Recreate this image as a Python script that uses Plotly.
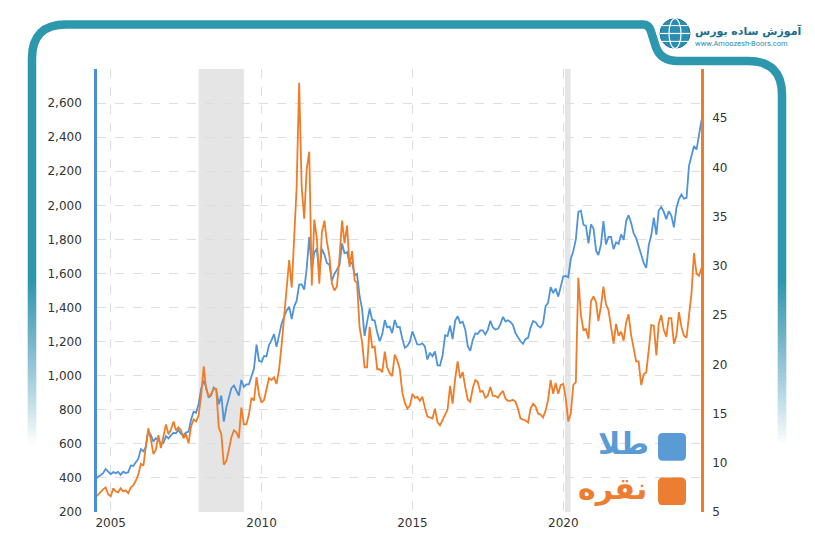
import plotly.graph_objects as go
import pandas as pd

# ---------------- data (monthly, Jul 2004 .. Aug 2024) ----------------
start_month = "2004-07-01"

gold_prices = [
    391, 407, 416, 428, 453, 438,
    422, 435, 428, 435, 418, 437, 429, 433, 473, 470, 495, 513,
    569, 556, 582, 675, 653, 613, 633, 623, 599, 604, 646, 632,
    650, 665, 662, 680, 659, 650, 666, 672, 743, 789, 783, 834,
    923, 971, 933, 871, 885, 930, 918, 833, 884, 730, 814, 869,
    927, 942, 916, 883, 975, 934, 949, 949, 996, 1040, 1182, 1087,
    1081, 1116, 1113, 1180, 1207, 1244, 1169, 1246, 1307, 1346, 1383, 1405,
    1333, 1409, 1439, 1535, 1536, 1505, 1628, 1813, 1620, 1722, 1746, 1600,
    1744, 1711, 1662, 1651, 1558, 1598, 1622, 1648, 1776, 1719, 1726, 1657,
    1664, 1588, 1598, 1469, 1394, 1234, 1314, 1394, 1327, 1324, 1253, 1202,
    1244, 1326, 1284, 1288, 1250, 1327, 1285, 1286, 1216, 1164, 1175, 1199,
    1260, 1213, 1183, 1182, 1190, 1172, 1095, 1134, 1114, 1142, 1061, 1060,
    1118, 1238, 1233, 1293, 1215, 1322, 1350, 1309, 1316, 1272, 1173, 1146,
    1212, 1249, 1245, 1266, 1266, 1242, 1269, 1322, 1283, 1271, 1275, 1303,
    1345, 1318, 1325, 1316, 1298, 1250, 1224, 1202, 1187, 1215, 1222, 1282,
    1321, 1313, 1292, 1283, 1305, 1409, 1427, 1520, 1485, 1511, 1464, 1515,
    1582, 1585, 1577, 1686, 1730, 1800, 1962, 1968, 1886, 1879, 1776, 1888,
    1863, 1734, 1708, 1769, 1907, 1770, 1814, 1814, 1743, 1783, 1774, 1829,
    1797, 1909, 1942, 1897, 1837, 1807, 1765, 1711, 1660, 1633, 1768, 1824,
    1928, 1827, 1969, 1990, 1963, 1919, 1965, 1940, 1871, 1983, 2036, 2063,
    2039, 2044, 2230, 2286, 2348, 2327, 2426, 2503,
]

silver_prices = [
    6.5, 6.8, 7.0, 7.3, 7.5, 6.8,
    6.6, 7.4, 7.1, 7.0, 7.4, 7.1, 7.2, 6.9, 7.5, 7.7, 8.2, 8.8,
    9.9, 9.7, 11.6, 13.5, 12.4, 10.9, 11.3, 12.8, 11.5, 12.6, 13.9, 12.9,
    13.4, 14.2, 13.3, 13.6, 13.3, 12.5, 12.9, 12.0, 13.7, 14.4, 14.2, 14.8,
    16.9, 19.8, 17.5, 16.7, 17.0, 17.5, 17.5, 13.6, 12.9, 9.8, 10.2, 11.3,
    12.6, 13.3, 13.1, 12.5, 15.6, 13.9, 13.9, 14.9, 16.6, 16.3, 18.7, 16.9,
    16.1, 16.4, 17.5, 18.6, 18.4, 18.7, 18.0, 19.5, 22.0, 24.7, 28.2, 30.6,
    27.8, 33.4, 37.9, 48.6, 38.1, 34.8, 39.8, 41.6, 28.0, 34.7, 32.8, 28.2,
    33.4, 34.6, 32.5, 31.0, 28.2, 27.5, 27.9, 30.8, 34.6, 32.3, 34.1, 29.9,
    31.5, 28.5, 28.3, 23.8, 22.3, 19.7, 19.7, 23.8, 21.7, 21.8, 19.5, 19.5,
    19.2, 21.3, 19.7, 19.1, 18.8, 21.0, 20.4, 19.5, 17.1, 16.1, 15.5, 15.8,
    17.0, 16.6, 16.7, 16.3, 16.7, 15.6, 14.7, 14.6, 14.5, 15.5, 14.1, 13.8,
    14.3, 14.9, 15.4, 17.8, 16.0, 18.5, 20.3, 18.6, 19.2, 17.7, 16.4, 16.2,
    17.6, 18.4, 18.2, 17.2, 17.3, 16.6, 16.8, 17.7, 16.8, 16.8, 16.6, 17.0,
    17.3, 16.5, 16.3, 16.3, 16.4, 16.2, 15.5, 14.5, 14.4, 14.3, 14.1, 15.5,
    16.0, 15.7, 15.0, 14.9, 14.6, 15.3, 16.4, 18.4, 17.0, 18.1, 17.0, 17.9,
    18.0, 16.5, 14.2, 15.0, 17.9, 18.2, 28.8, 25.0, 23.5, 23.6, 22.6, 26.4,
    26.9, 26.3, 24.4, 25.9, 27.9, 26.1, 25.5, 23.9, 22.1, 24.1, 22.9, 23.3,
    22.4, 24.3, 25.1, 23.0, 21.8, 20.3, 20.3, 17.9, 19.0, 19.2, 21.5, 24.0,
    23.9, 20.9, 24.1, 25.0, 23.5, 22.8, 24.7, 24.7, 22.1, 22.9, 25.3, 23.8,
    22.9, 22.7, 24.9, 27.2, 31.3, 29.2, 29.0, 29.8,
]

months = pd.date_range(start_month, periods=len(gold_prices), freq="MS")

recessions = [("2007-12-01", "2009-06-01"), ("2020-01-22", "2020-03-30")]
x_range = ["2004-07-19", "2024-07-25"]
gold_ticks = list(range(200, 2801, 200))
gold_tick_text = [f"{v:,}" if v < 2800 else "" for v in gold_ticks]
silver_ticks = list(range(5, 46, 5))

legend_gold = "طلا"
legend_silver = "نقره"
brand_name = "آموزش ساده بورس"
brand_url = "www.Amoozesh-Boors.com"

# ---------------- styling ----------------
GOLD_C = "#4f93d8"
SILVER_C = "#f07c28"
GOLD_SQ = "#5b9bd5"
SILVER_SQ = "#ed7d31"
FRAME_C = "#2d97ae"
GRID_C = "#dedede"
TICK_FONT = dict(family="DejaVu Sans", size=12, color="#333333")

W, H = 815, 542
L, R, T, B = 97, 114, 69, 24
PW, PH = W - L - R, H - T - B


def X(px):
    return (px - L) / PW


def Y(py):
    return (H - B - py) / PH


def path(cmds):
    out = []
    for c, pts in cmds:
        out.append(c + " " + " ".join(f"{X(a):.5f},{Y(b):.5f}" for a, b in pts))
    return " ".join(out)


def rrect(x0, y0, x1, y1, r):
    return path([
        ("M", [(x0 + r, y0)]), ("L", [(x1 - r, y0)]), ("Q", [(x1, y0), (x1, y0 + r)]),
        ("L", [(x1, y1 - r)]), ("Q", [(x1, y1), (x1 - r, y1)]),
        ("L", [(x0 + r, y1)]), ("Q", [(x0, y1), (x0, y1 - r)]),
        ("L", [(x0, y0 + r)]), ("Q", [(x0, y0), (x0 + r, y0)]), ("Z", []),
    ])


fig = go.Figure()
fig.add_trace(go.Scatter(x=months, y=gold_prices, mode="lines",
                         line=dict(color=GOLD_C, width=1.8), yaxis="y", name="gold"))
fig.add_trace(go.Scatter(x=months, y=silver_prices, mode="lines",
                         line=dict(color=SILVER_C, width=1.8), yaxis="y2", name="silver"))

shapes = []
for a, b in recessions:
    shapes.append(dict(type="rect", xref="x", yref="paper", x0=a, x1=b, y0=0, y1=1,
                       fillcolor="#e5e5e5", line=dict(width=0), layer="below"))

# decorative frame
frame = path([
    ("M", [(32, 462)]), ("L", [(32, 58)]), ("Q", [(32, 24), (66, 24)]),
    ("L", [(643, 24)]), ("Q", [(649, 24), (651, 31)]), ("L", [(656, 47)]),
    ("Q", [(661, 61), (678, 61)]), ("L", [(748, 61)]), ("Q", [(782, 61), (782, 95)]),
    ("L", [(782, 462)]),
])
shapes.append(dict(type="path", xref="paper", yref="paper", path=frame,
                   line=dict(color=FRAME_C, width=8.5), layer="above"))

# fade-out of frame sides: nested white rectangles reaching to the bottom
N = 40
y_start, y_end = 285, 452
prev_t = 1.0
for i in range(1, N + 1):
    ya = y_start + (y_end - y_start) * (i - 1) / N
    t = 1.0 - i / N
    alpha = 1.0 - t / prev_t if prev_t > 0 else 1.0
    prev_t = t
    for xa, xb in [(25, 40), (775, 790)]:
        shapes.append(dict(type="rect", xref="paper", yref="paper", x0=X(xa), x1=X(xb),
                           y0=Y(470), y1=Y(ya), fillcolor="white", opacity=min(1.0, alpha),
                           line=dict(width=0), layer="above"))

# logo globe
shapes.append(dict(type="circle", xref="paper", yref="paper", x0=X(660), x1=X(690),
                   y0=Y(48), y1=Y(18), fillcolor="#2a8db2", line=dict(color="#1f6f8f", width=1)))
shapes.append(dict(type="circle", xref="paper", yref="paper", x0=X(669), x1=X(681),
                   y0=Y(48), y1=Y(18), line=dict(color="white", width=1.2)))
shapes.append(dict(type="line", xref="paper", yref="paper", x0=X(660), x1=X(690),
                   y0=Y(33), y1=Y(33), line=dict(color="white", width=1.2)))
shapes.append(dict(type="line", xref="paper", yref="paper", x0=X(662), x1=X(688),
                   y0=Y(25), y1=Y(25), line=dict(color="white", width=1)))
shapes.append(dict(type="line", xref="paper", yref="paper", x0=X(662), x1=X(688),
                   y0=Y(41), y1=Y(41), line=dict(color="white", width=1)))

# legend squares
shapes.append(dict(type="path", xref="paper", yref="paper", path=rrect(658, 438, 686, 466, 5),
                   fillcolor=GOLD_SQ, line=dict(width=0), layer="above"))
shapes.append(dict(type="path", xref="paper", yref="paper", path=rrect(658, 483, 686, 511, 5),
                   fillcolor=SILVER_SQ, line=dict(width=0), layer="above"))

annotations = [
    dict(text=f"<b>{legend_gold}</b>", xref="paper", yref="paper", x=X(651), y=Y(449),
         xanchor="right", yanchor="middle", showarrow=False,
         font=dict(family="DejaVu Sans", size=30, color=GOLD_SQ)),
    dict(text=f"<b>{legend_silver}</b>", xref="paper", yref="paper", x=X(649), y=Y(494),
         xanchor="right", yanchor="middle", showarrow=False,
         font=dict(family="DejaVu Sans", size=30, color=SILVER_SQ)),
    dict(text=f"<b>{brand_name}</b>", xref="paper", yref="paper", x=X(693), y=Y(30),
         xanchor="left", yanchor="middle", showarrow=False,
         font=dict(family="DejaVu Sans", size=11, color="#1c6e8e")),
    dict(text=brand_url, xref="paper", yref="paper", x=X(693), y=Y(43),
         xanchor="left", yanchor="middle", showarrow=False,
         font=dict(family="Roboto", size=7.5, color="#2a8db2")),
]

fig.update_layout(
    width=W, height=H,
    margin=dict(l=L, r=R, t=T, b=B, pad=0),
    paper_bgcolor="white", plot_bgcolor="white",
    showlegend=False,
    shapes=shapes,
    annotations=annotations,
    xaxis=dict(type="date", range=x_range, tick0="2005-01-01", dtick="M60",
               tickformat="%Y", showgrid=True, gridcolor=GRID_C, griddash="dash",
               gridwidth=1, zeroline=False, showline=False, ticks="",
               tickfont=TICK_FONT, ticklabelstandoff=2),
    yaxis=dict(range=[200, 2800], tickvals=gold_ticks, ticktext=gold_tick_text,
               showgrid=True, gridcolor=GRID_C, griddash="dash", gridwidth=1,
               zeroline=False, showline=True, linecolor="#4a90d9", linewidth=2.5,
               ticks="", tickfont=TICK_FONT, ticklabelstandoff=10),
    yaxis2=dict(range=[5, 50], tickvals=silver_ticks, overlaying="y", side="right",
                showgrid=False, zeroline=False, showline=True, linecolor=SILVER_C,
                linewidth=2.5, ticks="", tickfont=TICK_FONT, ticklabelstandoff=6),
)

fig.write_html("out.html")
